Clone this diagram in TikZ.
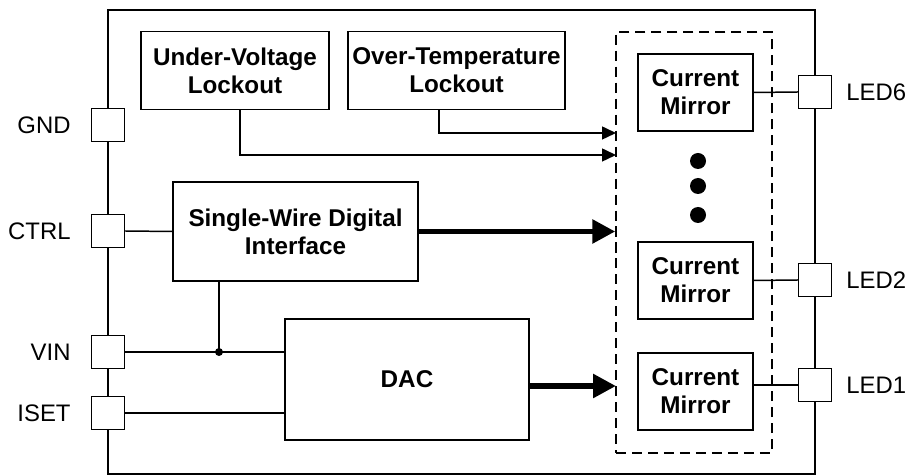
\documentclass[tikz,border=0pt]{standalone}
\usepackage{fontspec}
\setmainfont{Liberation Sans}
\usetikzlibrary{arrows.meta, positioning}

\tikzset{
  block/.style={draw, line width=0.85pt, fill=white, align=center,
                font=\fontsize{13.8}{16}\selectfont\bfseries, inner sep=0pt},
  pinbox/.style={draw, line width=0.85pt, fill=white, minimum size=0.66cm, inner sep=0pt},
  pinlbl/.style={font=\fontsize{13.6}{16}\selectfont},
  wire/.style={line width=0.85pt},
  sig/.style={wire, -{Triangle[length=0.28cm, width=0.26cm]}},
  bus/.style={line width=3.2pt, -{Triangle[length=0.46cm, width=0.46cm]}},
}

\begin{document}
\begin{tikzpicture}[x=0.02cm, y=-0.02cm]
  \useasboundingbox (0,0) rectangle (912,475);
  % Chip outline
  \draw[wire] (108,10) rectangle (815,474);
  % Pins
  \node[pinbox] (gnd)  at (108,125) {};
  \node[pinbox] (ctrl) at (108,231) {};
  \node[pinbox] (vin)  at (108,352) {};
  \node[pinbox] (iset) at (108,413) {};
  \node[pinbox] (led6) at (815,92)  {};
  \node[pinbox] (led2) at (815,280) {};
  \node[pinbox] (led1) at (815,385) {};
  \node[pinlbl, left=0.28cm of gnd]  (gndlbl)  {GND};
  \node[pinlbl, left=0.28cm of ctrl] (ctrllbl) {CTRL};
  \node[pinlbl, left=0.28cm of vin]  (vinlbl)  {VIN};
  \node[pinlbl, left=0.28cm of iset] (isetlbl) {ISET};
  \node[pinlbl, right=0.16cm of led6] (led6lbl) {LED6};
  \node[pinlbl, right=0.16cm of led2] (led2lbl) {LED2};
  \node[pinlbl, right=0.16cm of led1] (led1lbl) {LED1};
  % Blocks
  \node[block, minimum width=3.76cm, minimum height=1.56cm] (uvlo) at (235,70.5)
    {Under-Voltage\\Lockout};
  \node[block, minimum width=4.34cm, minimum height=1.56cm] (otl) at (456.5,70.5)
    {Over-Temperature\\Lockout};
  \node[block, minimum width=4.9cm, minimum height=1.98cm] (swdi) at (295.5,231.5)
    {Single-Wire Digital\\Interface};
  \node[block, minimum width=4.88cm, minimum height=2.42cm] (dac) at (407,379.5) {DAC};
  % Current mirror group
  \node[draw, line width=0.85pt, dash pattern=on 5.7pt off 3.4pt,
        minimum width=3.12cm, minimum height=8.42cm, inner sep=0pt] (mirrors) at (694,242.5) {};
  \node[block, minimum width=2.3cm, minimum height=1.54cm] (cm6) at (695.5,92.5)  {Current\\Mirror};
  \node[block, minimum width=2.3cm, minimum height=1.54cm] (cm2) at (695.5,280.5) {Current\\Mirror};
  \node[block, minimum width=2.3cm, minimum height=1.54cm] (cm1) at (695.5,391.5) {Current\\Mirror};
  \foreach \y in {161,186,215} {
    \fill (698,\y) circle (0.16cm);
  }
  % Connections
  \coordinate (otin) at (616,133);
  \coordinate (uvin) at (616,155);
  \coordinate (dacin) at (616,386);
  \coordinate (jn) at (219,352);
  \draw[sig] ([xshift=-0.35cm]otl.south) |- (otin);
  \draw[sig] ([xshift=0.1cm]uvlo.south) |- (uvin);
  \draw[bus] (swdi.east) -- (mirrors.west |- swdi.east);
  \draw[bus] (dac.east |- dacin) -- (dacin);
  \draw[wire] (ctrl.east) -- (swdi.west);
  \draw[wire] (vin.east) -- (vin.east -| dac.west);
  \draw[wire] (iset.east) -- (iset.east -| dac.west);
  \draw[wire] (swdi.south -| jn) -- (jn);
  \fill (jn) circle (0.08cm);
  \draw[wire] (cm6.east) -- (led6.west);
  \draw[wire] (cm2.east) -- (led2.west);
  \draw[wire] (led1.west -| cm1.east) -- (led1.west);
\end{tikzpicture}
\end{document}
